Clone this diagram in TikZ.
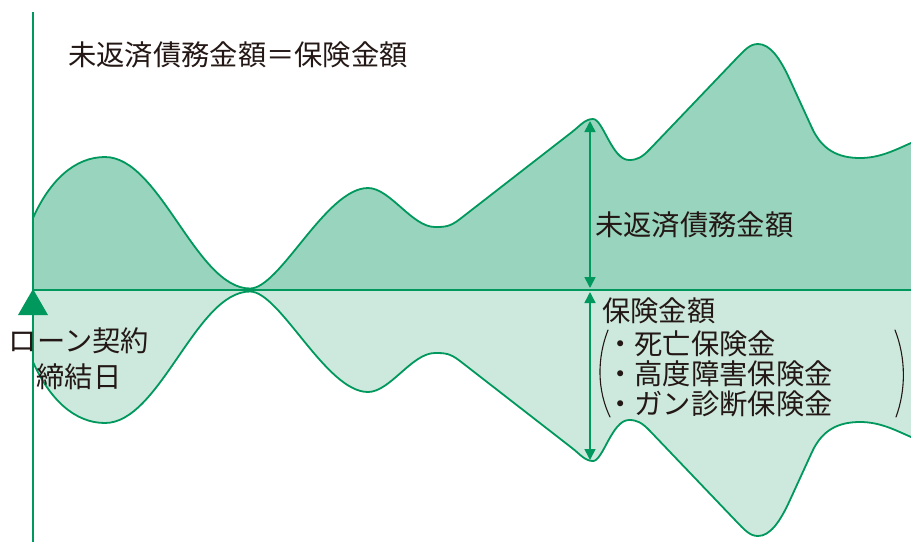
\documentclass[tikz,border=0pt]{standalone}
\usepackage{fontspec}
\newfontfamily\jp{Noto Sans CJK JP}
\usetikzlibrary{arrows.meta}
\definecolor{gline}{RGB}{0,152,92}
\definecolor{upfill}{RGB}{153,212,190}
\definecolor{lowfill}{RGB}{205,233,222}
\definecolor{txt}{RGB}{35,24,21}
\tikzset{
  curve/.style={line width=1.8pt, draw=gline, line join=round},
  lbl/.style={font=\jp\fontsize{28.3}{30}\selectfont, text=txt, inner sep=0pt, anchor=west},
  dimarrow/.style={draw=gline, line width=1.6pt, {Triangle[length=11pt,width=11pt]}-{Triangle[length=11pt,width=11pt]}},
  paren/.style={draw=txt, line width=1.1pt, line cap=round}
}
\begin{document}
\begin{tikzpicture}[x=1pt,y=-1pt]
\useasboundingbox (0,0) rectangle (911,542);
\clip (0,0) rectangle (911,542);
% upper area (unpaid debt)
\begin{scope}[shift={(0,290)},yscale=-1]
\filldraw[curve, fill=upfill] (33,0) -- (33,72)
  .. controls (50,110) and (75,133) .. (105,133)
  .. controls (160,133) and (196,1.5) .. (250,1.5)
  .. controls (280,1.5) and (326,102) .. (368,102)
  .. controls (390,102) and (412,63) .. (435,63)
  .. controls (445,63) and (450,63.25) .. (460,71)
  -- (572,158)
  .. controls (580,164.2) and (585,171) .. (593,171)
  .. controls (603,171) and (612,130) .. (629,130)
  .. controls (637,130) and (642,132.6) .. (650,141)
  -- (735,230)
  .. controls (745,240.5) and (750,246) .. (758,246)
  .. controls (770,246) and (780,232) .. (790,210)
  -- (812,162)
  .. controls (822,140.2) and (838,132) .. (860,132)
  .. controls (880,132) and (895,140) .. (911,147)
  -- (935,157.5) -- (935,0) -- cycle;
\end{scope}
% lower area (insurance)
\begin{scope}[shift={(0,290)}]
\filldraw[curve, fill=lowfill] (33,0) -- (33,72)
  .. controls (50,110) and (75,133) .. (105,133)
  .. controls (160,133) and (196,1.5) .. (250,1.5)
  .. controls (280,1.5) and (326,102) .. (368,102)
  .. controls (390,102) and (412,63) .. (435,63)
  .. controls (445,63) and (450,63.25) .. (460,71)
  -- (572,158)
  .. controls (580,164.2) and (585,171) .. (593,171)
  .. controls (603,171) and (612,130) .. (629,130)
  .. controls (637,130) and (642,132.6) .. (650,141)
  -- (735,230)
  .. controls (745,240.5) and (750,246) .. (758,246)
  .. controls (770,246) and (780,232) .. (790,210)
  -- (812,162)
  .. controls (822,140.2) and (838,132) .. (860,132)
  .. controls (880,132) and (895,140) .. (911,147)
  -- (935,157.5) -- (935,0) -- cycle;
\end{scope}
% axes
\coordinate (o) at (33,290);
\coordinate (xend) at (911,290);
\coordinate (ytop) at (33,12);
\coordinate (ybot) at (33,542);
\draw[gline, line width=2.4pt] (o) -- (xend);
\draw[gline, line width=2pt] (ytop) -- (ybot);
% start marker
\fill[gline] (33,289) -- (48,315) -- (18,315) -- cycle;
% dimension arrows
\coordinate (a0) at (590,288);
\coordinate (a1) at (590,121);
\coordinate (b0) at (590,292);
\coordinate (b1) at (590,460);
\draw[dimarrow] (a0) -- (a1);
\draw[dimarrow] (b0) -- (b1);
% texts
\node[lbl] (title) at (68,55) {未返済債務金額＝保険金額};
\node[lbl] (debt) at (595,225) {未返済債務金額};
\node[lbl] (ins) at (602,311) {保険金額};
\node[lbl] (l1) at (606,344) {・死亡保険金};
\node[lbl] (l2) at (606,374) {・高度障害保険金};
\node[lbl] (l3) at (606,404) {・ガン診断保険金};
\node[lbl, anchor=center, align=center, font=\jp\fontsize{28.3}{36}\selectfont] (start) at (79,359) {ローン契約\\締結日};
% parentheses
\draw[paren] (608,330) .. controls (597,358) and (597,390) .. (610,417);
\draw[paren] (895,330) .. controls (906,358) and (906,390) .. (896,417);
\end{tikzpicture}
\end{document}
